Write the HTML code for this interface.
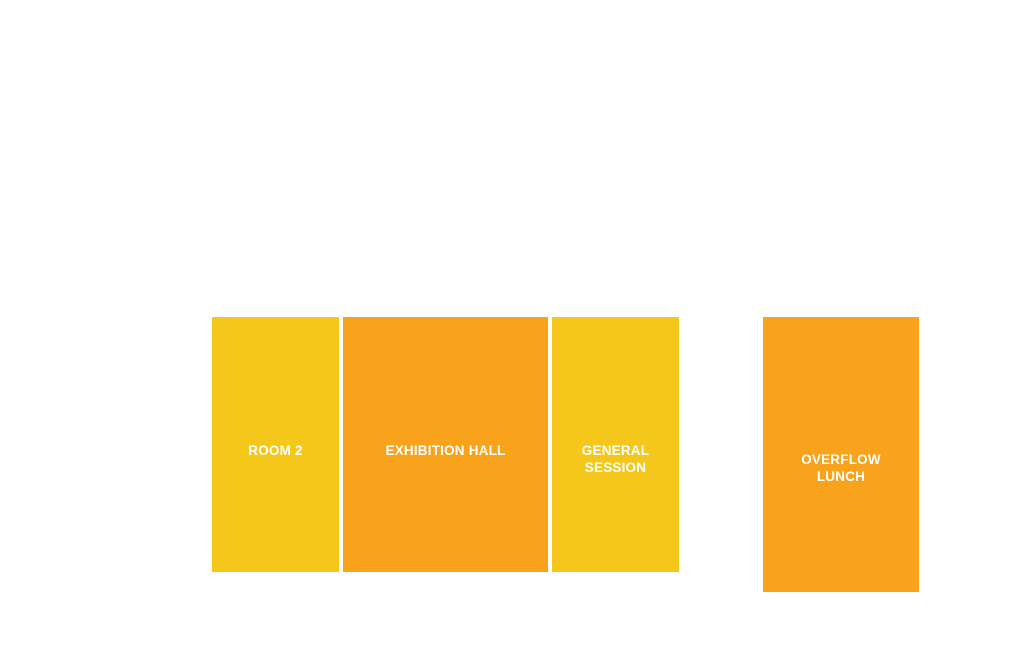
<!DOCTYPE html>
<html><head><style>
body{margin:0;width:1024px;height:671px;background:#fff;position:relative;overflow:hidden;font-family:"Liberation Sans",sans-serif}
.b{position:absolute;display:flex;align-items:center;justify-content:center;text-align:center;color:#fff;font-size:13.5px;font-weight:bold;line-height:17px;letter-spacing:0.2px}
.y{background:#f6c71b}.o{background:#f9a31d}
</style></head><body>
<div class="b y" style="left:212px;top:317px;width:127px;height:255px;padding-top:11px;box-sizing:border-box">ROOM 2</div>
<div class="b o" style="left:343px;top:317px;width:205px;height:255px;padding-top:11px;box-sizing:border-box">EXHIBITION HALL</div>
<div class="b y" style="left:552px;top:317px;width:127px;height:255px;padding-top:29px;box-sizing:border-box">GENERAL<br>SESSION</div>
<div class="b o" style="left:763px;top:317px;width:156px;height:275px;padding-top:26px;box-sizing:border-box">OVERFLOW<br>LUNCH</div>
</body></html>
